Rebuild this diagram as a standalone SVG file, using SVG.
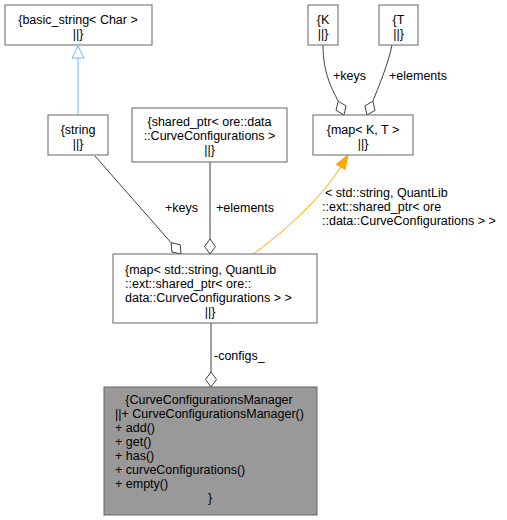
<svg xmlns="http://www.w3.org/2000/svg" width="507" height="520" viewBox="0 0 507 520">
<style>
text{font-family:"Liberation Sans",Arial,sans-serif;font-size:12.5px;fill:#000}
.c{text-anchor:middle}
.box{fill:#fff;stroke:#666;stroke-width:1}
.gbox{fill:#999;stroke:#666;stroke-width:1}
.e{fill:none;stroke:#404040;stroke-width:1}
.d{fill:#fff;stroke:#404040;stroke-width:1}
</style>
<rect width="507" height="520" fill="#fff"/>
<g id="connectors">
  <path class="e" d="M78,115 L78,58" stroke="#63b8ff" style="stroke:#63b8ff"/>
  <polygon points="78,46 84,58 72,58" fill="#fff" stroke="#63b8ff"/>
  <path class="e" d="M95,156 L171.1,242.7"/>
  <polygon class="d" points="181,254 171.9,252 171.1,242.7 180.2,244.7"/>
  <path class="e" d="M210,162 L210,239"/>
  <polygon class="d" points="210,254 204.5,246.5 210,239 215.5,246.5"/>
  <path class="e" d="M211,323 L211,372"/>
  <polygon class="d" points="211,387 205.5,379.5 211,372 216.5,379.5"/>
  <path class="e" d="M323,45 C323,75 333,90 338.1,101.2"/>
  <polygon class="d" points="344,115 336,110.3 338.1,101.2 346.1,105.9"/>
  <path class="e" d="M392,45 C388,65 378,88 372.9,101.2"/>
  <polygon class="d" points="367,115 364.9,105.9 372.9,101.2 375,110.3"/>
  <path d="M253,254 C280,235 320,200 340.7,166.9" fill="none" stroke="#ffa500"/>
  <polygon points="348,155 345,169.5 336.4,164.3" fill="#ffa500" stroke="#ffa500"/>
  <text x="165" y="212">+keys</text>
  <text x="216" y="212">+elements</text>
  <text x="214" y="360">-configs_</text>
  <text x="333" y="80">+keys</text>
  <text x="389" y="80">+elements</text>
  <text x="325" y="197">&lt; std::string, QuantLib</text>
  <text x="322" y="211">::ext::shared_ptr&lt; ore</text>
  <text x="322" y="225">::data::CurveConfigurations &gt; &gt;</text>
</g>
<g id="node_basic_string">
  <rect class="box" x="5" y="5" width="147" height="40"/>
  <text class="c" x="78" y="24">{basic_string&lt; Char &gt;</text>
  <text class="c" x="78" y="38">||}</text>
</g>
<g id="node_string">
  <rect class="box" x="48" y="115" width="60" height="40"/>
  <text class="c" x="78" y="134">{string</text>
  <text class="c" x="78" y="148">||}</text>
</g>
<g id="node_shared_ptr">
  <rect class="box" x="132" y="108" width="155" height="54"/>
  <text class="c" x="209.5" y="126">{shared_ptr&lt; ore::data</text>
  <text class="c" x="209.5" y="140">::CurveConfigurations &gt;</text>
  <text class="c" x="209.5" y="154">||}</text>
</g>
<g id="node_K">
  <rect class="box" x="308" y="5" width="30" height="40"/>
  <text class="c" x="323" y="24">{K</text>
  <text class="c" x="323" y="38">||}</text>
</g>
<g id="node_T">
  <rect class="box" x="379" y="5" width="39" height="40"/>
  <text class="c" x="398.5" y="24">{T</text>
  <text class="c" x="398.5" y="38">||}</text>
</g>
<g id="node_map_KT">
  <rect class="box" x="313" y="115" width="100" height="40"/>
  <text class="c" x="363" y="134">{map&lt; K, T &gt;</text>
  <text class="c" x="363" y="148">||}</text>
</g>
<g id="node_map_configs">
  <rect class="box" x="113" y="254" width="204" height="69"/>
  <text x="125" y="274">{map&lt; std::string, QuantLib</text>
  <text x="125" y="288">::ext::shared_ptr&lt; ore::</text>
  <text x="125" y="302">data::CurveConfigurations &gt; &gt;</text>
  <text class="c" x="210" y="316">||}</text>
</g>
<g id="node_CurveConfigurationsManager">
  <rect class="gbox" x="104" y="387" width="213" height="128"/>
  <text class="c" x="209" y="404">{CurveConfigurationsManager</text>
  <text x="115" y="418">||+ CurveConfigurationsManager()</text>
  <text x="115" y="432">+ add()</text>
  <text x="115" y="446">+ get()</text>
  <text x="115" y="460">+ has()</text>
  <text x="115" y="474">+ curveConfigurations()</text>
  <text x="115" y="488">+ empty()</text>
  <text class="c" x="210" y="502">}</text>
</g>
</svg>
